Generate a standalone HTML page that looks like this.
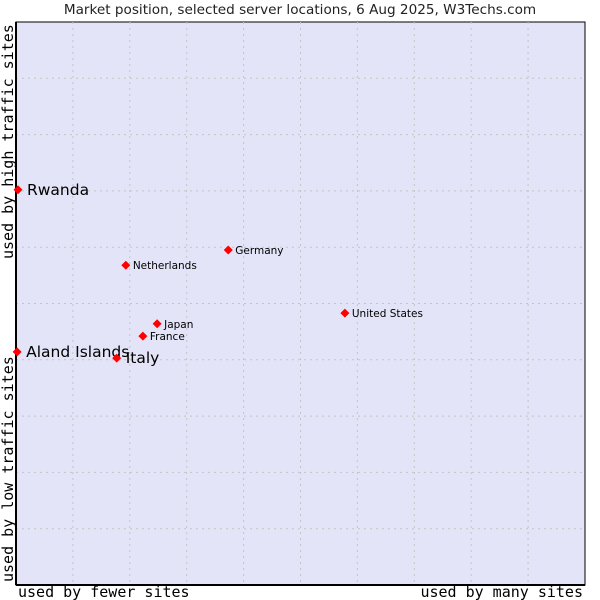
<!DOCTYPE html>
<html><head><meta charset="utf-8"><style>
body{margin:0;background:#fff;width:600px;height:600px;overflow:hidden}
svg{display:block}
</style></head><body>
<svg id="chart" width="600" height="600">
<text x="300" y="14" text-anchor="middle" font-family="DejaVu Sans, sans-serif" font-size="13.6" fill="#222">Market position, selected server locations, 6 Aug 2025, W3Techs.com</text>
<rect x="16" y="22" width="569" height="563" fill="#e4e4f8" stroke="#000" stroke-width="1"/>
<g id="grid"></g>
<line x1="16" y1="22" x2="16" y2="585" stroke="#000" stroke-width="2"/>
<line x1="16" y1="585" x2="585" y2="585" stroke="#000" stroke-width="2"/>
<text x="18" y="597" font-family="DejaVu Sans Mono, monospace" font-size="15">used by fewer sites</text>
<text x="583" y="597" text-anchor="end" font-family="DejaVu Sans Mono, monospace" font-size="15">used by many sites</text>
<text transform="translate(13,582) rotate(-90)" font-family="DejaVu Sans Mono, monospace" font-size="15">used by low traffic sites</text>
<text transform="translate(13,259) rotate(-90)" font-family="DejaVu Sans Mono, monospace" font-size="15">used by high traffic sites</text>
<g id="points"></g>
</svg>
<script>
const names = ["Rwanda","Aland Islands","Italy","France","Japan","Netherlands","Germany","United States"];
const xValues = [0.035,0.02,1.77,2.23,2.48,1.93,3.73,5.78];
const yValues = [7.02,4.14,4.03,4.42,4.64,5.68,5.95,4.83];
const bigLabel = [true,true,true,false,false,false,false,false];
const X0=16,X1=585,Y0=585,Y1=22;
function sx(v){return X0+(X1-X0)*v/10;}
function sy(v){return Y0-(Y0-Y1)*v/10;}
const NS="http://www.w3.org/2000/svg";
const grid=document.getElementById('grid');
for(let k=1;k<10;k++){
  const v=document.createElementNS(NS,'line');
  v.setAttribute('x1',sx(k));v.setAttribute('x2',sx(k));v.setAttribute('y1',Y1);v.setAttribute('y2',Y0);
  v.setAttribute('stroke','#c4c4c4');v.setAttribute('stroke-dasharray','2,4');
  
  
  grid.appendChild(v);
  const h=document.createElementNS(NS,'line');
  h.setAttribute('y1',sy(k));h.setAttribute('y2',sy(k));h.setAttribute('x1',X0);h.setAttribute('x2',X1);
  h.setAttribute('stroke','#c4c4c4');h.setAttribute('stroke-dasharray','2,4');
  
  
  grid.appendChild(h);
}
const pts=document.getElementById('points');
names.forEach((n,i)=>{
  const x=sx(xValues[i]),y=sy(yValues[i]);
  const d=document.createElementNS(NS,'path');
  d.setAttribute('d',`M${x-4.5},${y} L${x},${y-4.5} L${x+4.5},${y} L${x},${y+4.5} Z`);
  d.setAttribute('fill','#f00');
  
  
  pts.appendChild(d);
  const t=document.createElementNS(NS,'text');
  t.setAttribute('x',x+(bigLabel[i]?9:7));
  t.setAttribute('y',y+(bigLabel[i]?5:4));
  t.setAttribute('font-family','DejaVu Sans, sans-serif');
  t.setAttribute('font-size',bigLabel[i]?'15.5':'10.5');
  t.setAttribute('fill','#000');
  t.textContent=n;
  
  
  pts.appendChild(t);
});
</script>
</body></html>
